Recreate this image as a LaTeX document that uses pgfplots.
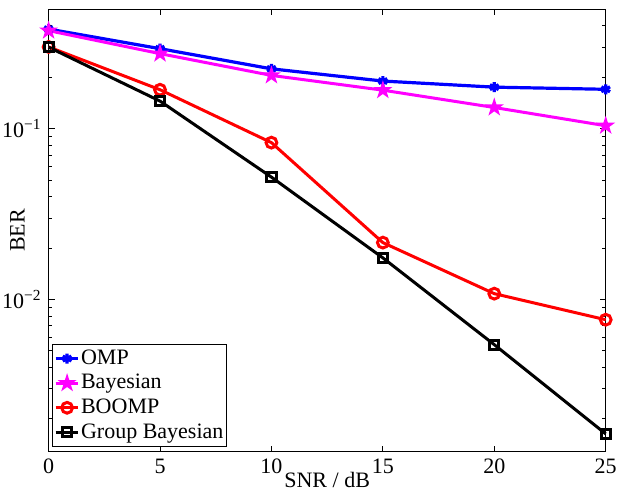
\documentclass[border=0pt]{standalone}
\usepackage{fontspec}
\setmainfont{Liberation Serif}
\usepackage{pgfplots}
\pgfplotsset{compat=1.18}
\definecolor{mgt}{RGB}{255,0,255}

% filled five-pointed star, like MATLAB's 'p' marker
\pgfdeclareplotmark{pentagram}{%
  \pgfpathmoveto{\pgfpointpolar{90}{\pgfplotmarksize}}%
  \pgfpathlineto{\pgfpointpolar{126}{0.382\pgfplotmarksize}}%
  \pgfpathlineto{\pgfpointpolar{162}{\pgfplotmarksize}}%
  \pgfpathlineto{\pgfpointpolar{198}{0.382\pgfplotmarksize}}%
  \pgfpathlineto{\pgfpointpolar{234}{\pgfplotmarksize}}%
  \pgfpathlineto{\pgfpointpolar{270}{0.382\pgfplotmarksize}}%
  \pgfpathlineto{\pgfpointpolar{306}{\pgfplotmarksize}}%
  \pgfpathlineto{\pgfpointpolar{342}{0.382\pgfplotmarksize}}%
  \pgfpathlineto{\pgfpointpolar{18}{\pgfplotmarksize}}%
  \pgfpathlineto{\pgfpointpolar{54}{0.382\pgfplotmarksize}}%
  \pgfpathclose
  \pgfusepathqfill
}

\begin{document}
\begin{tikzpicture}[font=\fontsize{11}{13}\selectfont]
\begin{axis}[
  scale only axis, width=278.5pt, height=221.2pt,
  ymode=log,
  xmin=0, xmax=25, ymin=1.28e-3, ymax=0.5,
  xtick={0,5,10,15,20,25},
  ytick={0.01,0.1},
  yticklabels={10\textsuperscript{−2},10\textsuperscript{−1}},
  minor ytick={0.002,0.003,0.004,0.005,0.006,0.007,0.008,0.009,
    0.02,0.03,0.04,0.05,0.06,0.07,0.08,0.09,0.2,0.3,0.4,0.5},
  /pgf/number format/assume math mode=true,
  tick align=inside, major tick length=3pt, minor tick length=1.6pt,
  axis line style={line width=0.5pt},
  tick style={black, line width=0.4pt},
  xlabel={SNR / dB}, ylabel={BER},
  xlabel style={at={(axis description cs:0.5,0)}, anchor=north, inner sep=0pt, yshift=-10pt},
  ylabel style={at={(axis description cs:-0.0424,0.5)}, anchor=south, inner sep=0pt},
  clip=false,
  legend cell align=left,
  legend image code/.code={\draw[mark repeat=2,mark phase=2,#1] plot coordinates {(0cm,0cm) (0.2cm,0cm) (0.4cm,0cm)};},
  legend style={at={(axis description cs:0,0)}, anchor=south west, xshift=1.5pt, yshift=2.3pt,
    draw=black, line width=0.5pt, inner sep=1pt,
    nodes={inner sep=0.5pt, text height=8.5pt, text depth=2.8pt, anchor=west}},
]
\addplot[blue, line width=1.6pt, mark=asterisk, mark size=2.5pt] coordinates {
  (0,0.383) (5,0.294) (10,0.224) (15,0.190) (20,0.175) (25,0.170) };
\addlegendentry{OMP}
\addplot[mgt, line width=1.5pt, mark=pentagram, mark size=5pt] coordinates {
  (0,0.375) (5,0.275) (10,0.205) (15,0.168) (20,0.133) (25,0.104) };
\addlegendentry{Bayesian}
\addplot[red, line width=1.5pt, mark=o, mark size=2.7pt] coordinates {
  (0,0.301) (5,0.169) (10,0.0828) (15,0.0215) (20,0.0108) (25,0.0076) };
\addlegendentry{BOOMP}
\addplot[black, line width=1.5pt, mark=square, mark size=2.3pt] coordinates {
  (0,0.300) (5,0.145) (10,0.052) (15,0.0175) (20,0.00543) (25,0.00163) };
\addlegendentry{Group Bayesian}
\end{axis}
\pgfresetboundingbox
\path[use as bounding box] ([xshift=-24.3pt,yshift=-19.15pt]current axis.south west)
  rectangle ([xshift=5.65pt,yshift=4.65pt]current axis.north east);
\end{tikzpicture}
\end{document}
